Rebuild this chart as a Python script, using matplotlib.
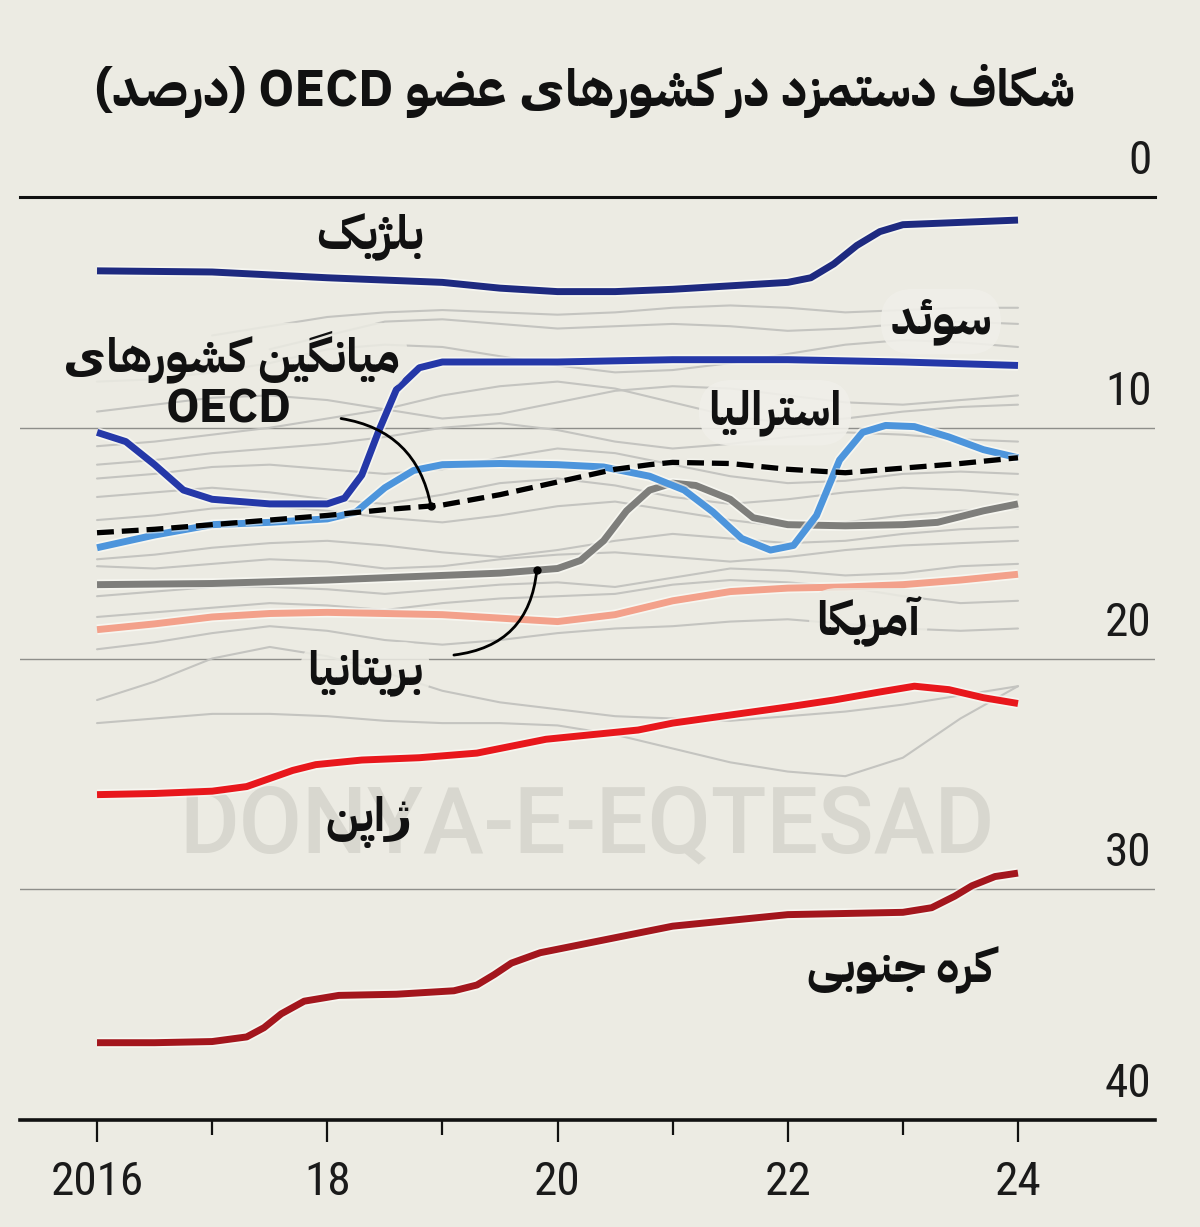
import numpy as np
import matplotlib
matplotlib.use("Agg")
import matplotlib.pyplot as plt
import matplotlib.patheffects as pe
from matplotlib.transforms import blended_transform_factory

# ---- Persian shaping (matplotlib has no bidi / joining) ----
FORMS = {
    "\u0627": ("\uFE8D", "\uFE8E", None, None),
    "\u0622": ("\uFE81", "\uFE82", None, None),
    "\u0628": ("\uFE8F", "\uFE90", "\uFE91", "\uFE92"),
    "\u067E": ("\uFB56", "\uFB57", "\uFB58", "\uFB59"),
    "\u062A": ("\uFE95", "\uFE96", "\uFE97", "\uFE98"),
    "\u062C": ("\uFE9D", "\uFE9E", "\uFE9F", "\uFEA0"),
    "\u062F": ("\uFEA9", "\uFEAA", None, None),
    "\u0631": ("\uFEAD", "\uFEAE", None, None),
    "\u0632": ("\uFEAF", "\uFEB0", None, None),
    "\u0698": ("\uFB8A", "\uFB8B", None, None),
    "\u0633": ("\uFEB1", "\uFEB2", "\uFEB3", "\uFEB4"),
    "\u0634": ("\uFEB5", "\uFEB6", "\uFEB7", "\uFEB8"),
    "\u0635": ("\uFEB9", "\uFEBA", "\uFEBB", "\uFEBC"),
    "\u0636": ("\uFEBD", "\uFEBE", "\uFEBF", "\uFEC0"),
    "\u0639": ("\uFEC9", "\uFECA", "\uFECB", "\uFECC"),
    "\u0641": ("\uFED1", "\uFED2", "\uFED3", "\uFED4"),
    "\u06A9": ("\uFB8E", "\uFB8F", "\uFB90", "\uFB91"),
    "\u06AF": ("\uFB92", "\uFB93", "\uFB94", "\uFB95"),
    "\u0644": ("\uFEDD", "\uFEDE", "\uFEDF", "\uFEE0"),
    "\u0645": ("\uFEE1", "\uFEE2", "\uFEE3", "\uFEE4"),
    "\u0646": ("\uFEE5", "\uFEE6", "\uFEE7", "\uFEE8"),
    "\u0648": ("\uFEED", "\uFEEE", None, None),
    "\u0647": ("\uFEE9", "\uFEEA", "\uFEEB", "\uFEEC"),
    "\u06CC": ("\uFBFC", "\uFBFD", "\uFEF3", "\uFEF4"),
    "\u0626": ("\uFE89", "\uFE8A", "\uFE8B", "\uFE8C"),
}
MIRROR = {"(": ")", ")": "("}


def fa(text):
    out = []
    for i, ch in enumerate(text):
        if ch not in FORMS:
            out.append(ch)
            continue
        prev = text[i - 1] if i > 0 else ""
        nxt = text[i + 1] if i + 1 < len(text) else ""
        join_prev = prev in FORMS and FORMS[prev][2] is not None
        join_next = FORMS[ch][2] is not None and nxt in FORMS
        iso, fin, ini, med = FORMS[ch]
        out.append(med if join_prev and join_next else fin if join_prev
                   else ini if join_next else iso)
    vis = "".join(MIRROR.get(c, c) for c in reversed(out))
    res, run = [], []
    for c in vis:
        if c.isascii() and c.isalnum():
            run.append(c)
        else:
            res.append("".join(reversed(run)))
            run = []
            res.append(c)
    res.append("".join(reversed(run)))
    return "".join(res)


# ---- data (wage gap, %) ----
TITLE = "شکاف دستمزد در کشورهای عضو OECD (درصد)"

belgium_x = [2016, 2017, 2018, 2019, 2019.5, 2020, 2020.5, 2021, 2021.5, 2022, 2022.2,
             2022.4, 2022.6, 2022.8, 2023, 2023.5, 2024]
belgium_y = [3.2, 3.25, 3.5, 3.7, 3.95, 4.1, 4.1, 4.0, 3.85, 3.7, 3.5, 2.9, 2.1, 1.5, 1.2, 1.1, 1.0]

sweden_x = [2016, 2016.25, 2016.5, 2016.75, 2017, 2017.5, 2018, 2018.15, 2018.3, 2018.45,
            2018.6, 2018.8, 2019, 2020, 2021, 2022, 2023, 2024]
sweden_y = [10.2, 10.6, 11.6, 12.7, 13.1, 13.3, 13.3, 13.05, 12.05, 10.1, 8.35, 7.4, 7.15,
            7.15, 7.05, 7.05, 7.15, 7.3]

australia_x = [2016, 2016.5, 2017, 2017.5, 2018, 2018.25, 2018.5, 2018.75, 2019, 2019.5, 2020,
               2020.4, 2020.8, 2021.1, 2021.35, 2021.6, 2021.85, 2022.05, 2022.25, 2022.45,
               2022.65, 2022.85, 2023.1, 2023.4, 2023.7, 2024]
australia_y = [15.2, 14.65, 14.2, 14.1, 13.95, 13.65, 12.6, 11.85, 11.6, 11.55, 11.6, 11.7,
               12.1, 12.7, 13.65, 14.8, 15.3, 15.1, 13.8, 11.4, 10.2, 9.9, 9.95, 10.4, 10.95, 11.3]

oecd_x = [2016, 2016.5, 2017, 2017.5, 2018, 2018.5, 2019, 2019.5, 2020, 2020.5, 2020.8, 2021,
          2021.5, 2022, 2022.5, 2023, 2023.5, 2024]
oecd_y = [14.55, 14.4, 14.2, 14.0, 13.8, 13.55, 13.35, 12.9, 12.35, 11.8, 11.6, 11.5, 11.55,
          11.8, 11.95, 11.75, 11.55, 11.3]

britain_x = [2016, 2017, 2018, 2019, 2019.5, 2020, 2020.2, 2020.4, 2020.6, 2020.8, 2021,
             2021.2, 2021.5, 2021.7, 2022, 2022.5, 2023, 2023.3, 2023.7, 2024]
britain_y = [16.8, 16.75, 16.6, 16.4, 16.3, 16.1, 15.75, 14.9, 13.6, 12.7, 12.4, 12.5, 13.1,
             13.9, 14.2, 14.25, 14.2, 14.1, 13.6, 13.3]

america_x = [2016, 2016.5, 2017, 2017.5, 2018, 2018.5, 2019, 2019.5, 2020, 2020.5, 2021,
             2021.5, 2022, 2022.5, 2023, 2023.5, 2024]
america_y = [18.75, 18.5, 18.2, 18.05, 18.0, 18.05, 18.1, 18.25, 18.4, 18.1, 17.5, 17.1,
             16.95, 16.9, 16.8, 16.6, 16.35]

japan_x = [2016, 2016.5, 2017, 2017.3, 2017.5, 2017.7, 2017.9, 2018.3, 2018.8, 2019.3, 2019.6,
           2019.9, 2020.3, 2020.7, 2021, 2021.5, 2022, 2022.4, 2022.8, 2023.1, 2023.4,
           2023.7, 2024]
japan_y = [25.9, 25.85, 25.75, 25.55, 25.2, 24.85, 24.6, 24.4, 24.3, 24.1, 23.8, 23.5, 23.3,
           23.1, 22.8, 22.45, 22.1, 21.8, 21.45, 21.2, 21.35, 21.7, 21.95]

korea_x = [2016, 2016.5, 2017, 2017.3, 2017.45, 2017.6, 2017.8, 2018.1, 2018.6, 2019.1,
           2019.3, 2019.45, 2019.6, 2019.85, 2020.2, 2020.6, 2021, 2021.5, 2022, 2022.5, 2023,
           2023.25, 2023.45, 2023.6, 2023.8, 2024]
korea_y = [36.65, 36.65, 36.6, 36.4, 36.0, 35.4, 34.85, 34.6, 34.55, 34.4, 34.15, 33.7, 33.2,
           32.75, 32.4, 32.0, 31.6, 31.35, 31.1, 31.05, 31.0, 30.8, 30.3, 29.85, 29.45, 29.3]

# other OECD members, half-yearly readings
others_x = [2016, 2016.5, 2017, 2017.5, 2018, 2018.5, 2019, 2019.5, 2020, 2020.5, 2021,
            2021.5, 2022, 2022.5, 2023, 2023.5, 2024]
others_y = [
    [np.nan, np.nan, 6.0, 5.6, 5.2, 5.0, 4.9, 5.0, 5.1, 5.0, 4.8, 4.7, 4.8, 5.0, 4.9, 4.8, 4.8],
    [np.nan, np.nan, np.nan, 6.6, 6.0, 5.4, 5.3, 5.5, 5.7, 5.6, 5.5, 5.6, 5.8, 5.7, 5.5, 5.4, 5.5],
    [8.0, 7.9, 7.6, 7.2, 6.6, 6.4, 6.5, 6.9, 7.3, 7.6, 7.5, 7.2, 6.8, 6.4, 6.2, 6.3, 6.5],
    [9.3, 9.0, 8.7, 8.6, 8.8, 9.2, 9.6, 9.4, 8.9, 8.4, 8.2, 8.3, 8.6, 8.9, 9.0, 8.8, 8.6],
    [10.8, 10.6, 10.3, 10.0, 9.6, 9.2, 8.6, 8.2, 8.0, 8.3, 8.9, 9.5, 9.8, 9.6, 9.3, 9.1, 9.0],
    [11.6, 11.4, 11.1, 10.9, 10.7, 10.4, 10.0, 9.8, 10.1, 10.6, 10.9, 10.7, 10.4, 10.2, 10.3, 10.5, 10.6],
    [12.2, 12.0, 11.7, 11.6, 11.8, 12.0, 11.8, 11.3, 10.9, 11.1, 11.6, 12.1, 12.4, 12.3, 12.0, 11.9, 12.0],
    [13.0, 12.8, 12.6, 12.8, 13.1, 13.3, 12.9, 12.4, 12.2, 12.5, 13.0, 13.3, 13.1, 12.8, 12.6, 12.7, 12.9],
    [14.0, 13.8, 13.5, 13.4, 13.6, 13.9, 14.1, 13.8, 13.4, 13.2, 13.6, 14.0, 14.3, 14.1, 13.8, 13.6, 13.5],
    [15.7, 15.5, 15.2, 15.0, 14.9, 15.1, 15.4, 15.6, 15.3, 14.9, 14.6, 14.8, 15.0, 14.9, 14.6, 14.4, 14.3],
    [16.0, 16.1, 15.9, 15.7, 15.8, 16.1, 16.0, 15.7, 15.5, 15.4, 15.6, 15.8, 15.6, 15.3, 15.1, 15.0, 14.9],
    [17.3, 17.1, 16.9, 16.9, 17.0, 17.2, 17.0, 16.8, 16.7, 16.9, 16.5, 16.1, 16.2, 16.4, 16.3, 16.0, 15.9],
    [18.2, 18.0, 17.8, 17.6, 17.7, 17.9, 17.6, 17.4, 17.3, 17.2, 16.8, 16.6, 16.7, 16.9, 17.3, 17.6, 17.5],
    [19.6, 19.3, 18.9, 18.6, 18.8, 19.2, 19.4, 19.2, 18.9, 18.7, 18.6, 18.4, 18.3, 18.5, 18.7, 18.8, 18.7],
    [21.8, 21.0, 20.0, 19.5, 19.9, 20.6, 21.4, 21.9, 22.2, 22.5, 22.6, 22.7, 22.5, 22.3, 22.0, 21.6, 21.2],
    [22.8, 22.6, 22.4, 22.4, 22.5, 22.7, 22.8, 22.8, 22.9, 23.3, 23.9, 24.5, 24.9, 25.1, 24.3, 22.6, 21.2],
]

y_ticks = [0, 10, 20, 30, 40]
x_major = [2016, 2018, 2020, 2022, 2024]
x_major_labels = ["2016", "18", "20", "22", "24"]
x_minor = [2017, 2019, 2021, 2023]

BG = "#ecebe3"
LABEL_FONT = ["IBM Plex Sans Arabic", "DejaVu Sans"]
NUM_FONT = ["Roboto Condensed", "DejaVu Sans"]

fig = plt.figure(figsize=(12, 12.27), dpi=100, facecolor=BG)
ax = fig.add_axes([20 / 1200, 1 - 1120 / 1227, 1135 / 1200, 923 / 1227])
ax.set_facecolor(BG)
ax.set_xlim(2015.331, 2025.19)
ax.set_ylim(40, 0)

for s in ["top", "left", "right"]:
    ax.spines[s].set_visible(False)
ax.spines["bottom"].set_linewidth(2.6)
ax.spines["bottom"].set_color("#111111")
ax.axhline(0, color="#111111", lw=2.2, clip_on=False, zorder=2)
for v in y_ticks[1:-1]:
    ax.axhline(v, color="#8e8e8a", lw=1.0, zorder=0.5)

ax.set_yticks([])
ax.set_xticks(x_major)
ax.set_xticklabels(x_major_labels, fontsize=34, family=NUM_FONT, color="#1a1a1a")
ax.set_xticks(x_minor, minor=True)
ax.tick_params(axis="x", which="major", length=16, width=1.6, pad=13, color="#111111")
ax.tick_params(axis="x", which="minor", length=11, width=1.6, color="#111111")

ytr = blended_transform_factory(ax.transAxes, ax.transData)
for v in y_ticks:
    ax.text(0.997, v - 0.6, str(v), transform=ytr, ha="right", va="bottom",
            fontsize=34, family=NUM_FONT, color="#1a1a1a")

# watermark
ax.text(0.5, 27.3, "DONYA-E-EQTESAD", transform=ytr, ha="center", va="center",
        fontsize=66, family=["Roboto", "DejaVu Sans"], weight="medium",
        color="#d8d7cf", zorder=0.2)

for ys in others_y:
    ax.plot(others_x, ys, color="#c4c4c0", lw=1.5, zorder=1, solid_capstyle="round")

halo = [pe.Stroke(linewidth=7.5, foreground="#fbfbf6", alpha=0.7), pe.Normal()]
series = [
    (korea_x, korea_y, "#a3161d"),
    (japan_x, japan_y, "#e8171c"),
    (america_x, america_y, "#f3a18b"),
    (britain_x, britain_y, "#7e7e7b"),
    (australia_x, australia_y, "#4d95dc"),
    (sweden_x, sweden_y, "#2538a8"),
    (belgium_x, belgium_y, "#1e2a80"),
]
for xs, ys, col in series:
    ax.plot(xs, ys, color=col, lw=5, zorder=3, solid_capstyle="butt",
            solid_joinstyle="round", path_effects=halo)
ax.plot(oecd_x, oecd_y, color="black", lw=3.8, ls=(0, (3.2, 1.5)), zorder=4,
        path_effects=[pe.Stroke(linewidth=6, foreground="#fbfbf6", alpha=0.5), pe.Normal()])

# annotation pointers
oecd_dot_x = 2018.9
oecd_dot = (oecd_dot_x, np.interp(oecd_dot_x, oecd_x, oecd_y))
ax.annotate("", xy=oecd_dot, xytext=(2018.12, 9.6),
            arrowprops=dict(arrowstyle="-", color="black", lw=2.0,
                            connectionstyle="arc3,rad=-0.35", shrinkA=0, shrinkB=0), zorder=5)
ax.plot(*oecd_dot, "o", color="black", ms=5, zorder=5)
brit_dot_x = 2019.82
brit_dot = (brit_dot_x, np.interp(brit_dot_x, britain_x, britain_y))
ax.annotate("", xy=brit_dot, xytext=(2019.1, 19.85),
            arrowprops=dict(arrowstyle="-", color="black", lw=2.0,
                            connectionstyle="arc3,rad=0.4", shrinkA=0, shrinkB=0), zorder=5)
ax.plot(*brit_dot, "o", color="black", ms=5, zorder=5)

# country labels
soft = dict(boxstyle="round,pad=0.15,rounding_size=0.6", fc=BG, ec="none", alpha=0.85)
light = dict(boxstyle="round,pad=0.2,rounding_size=0.7", fc="#f0efe9", ec="none", alpha=0.9)
labels = [
    ("بلژیک", 2018.37, 1.75, None),
    ("سوئد", 2023.33, 5.4, light),
    ("میانگین کشورهای", 2017.17, 6.9, soft),
    ("OECD", 2017.14, 9.25, None),
    ("استرالیا", 2021.89, 9.35, light),
    ("آمریکا", 2022.7, 18.35, soft),
    ("بریتانیا", 2018.33, 20.6, soft),
    ("ژاپن", 2018.36, 27.1, None),
    ("کره جنوبی", 2022.98, 33.5, None),
]
for txt, lx, ly, bb in labels:
    ax.text(lx, ly, fa(txt), ha="center", va="center", fontsize=34, weight="bold",
            family=LABEL_FONT, color="#111111", zorder=6, bbox=bb)

fig.text(585 / 1200, 1 - 91 / 1227, fa(TITLE), ha="center", va="center",
         fontsize=36.5, weight="bold", family=LABEL_FONT, color="#111111")

fig.savefig("out.png", dpi=100, facecolor=BG)
